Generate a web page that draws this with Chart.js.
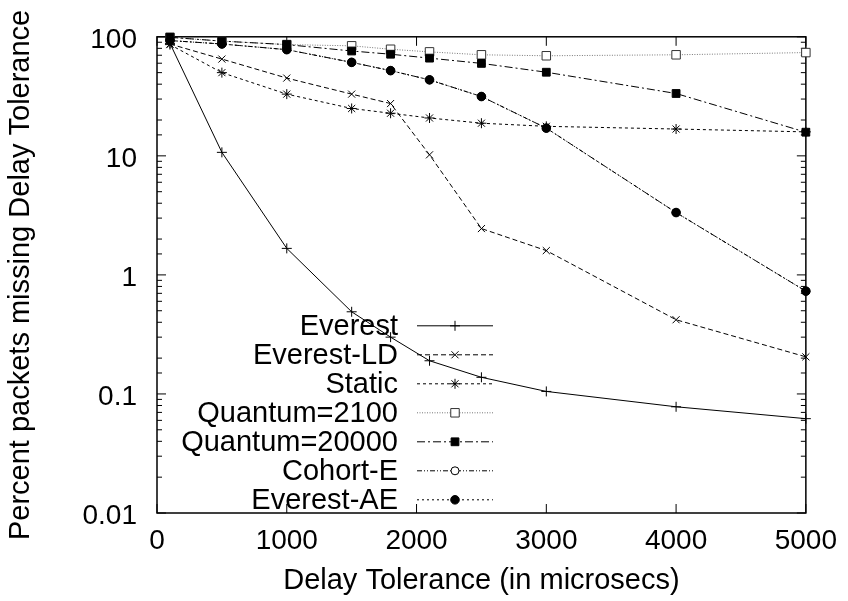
<!DOCTYPE html>
<html>
<head>
<meta charset="utf-8">
<script src="https://cdn.jsdelivr.net/npm/chart.js@4/dist/chart.umd.min.js"></script>
<style>
  body { margin: 0; background: #fff; }
  canvas { display: block; }
</style>
</head>
<body>
<canvas id="toleranceChart" width="848" height="601"></canvas>
<script>
// delay tolerance (microsecs) for every measured point
const delays = [100, 500, 1000, 1500, 1800, 2100, 2500, 3000, 4000, 5000];

// percent packets missing the delay tolerance
const everest      = [88, 10.7, 1.67, 0.49, 0.30, 0.19, 0.138, 0.105, 0.078, 0.062];
const everestLD    = [87, 65, 45, 33, 27.5, 10.2, 2.45, 1.6, 0.42, 0.205];
const staticSched  = [86, 50, 33, 25, 22.8, 20.8, 18.8, 17.7, 16.8, 15.9];
const quantum2100  = [99, 92, 86, 84, 78.6, 74.7, 70.6, 69.3, 70.6, 73.7];
const quantum20000 = [99, 92, 86, 76, 71.4, 66.2, 59.8, 50.4, 33.4, 15.8];
const cohortE      = [93, 87, 78, 61, 52, 43.5, 31.5, 17.1, 3.34, 0.73];
const everestAE    = [93, 87, 78, 61, 52, 43.5, 31.5, 17.1, 3.34, 0.73];

const xTickValues = [0, 1000, 2000, 3000, 4000, 5000];
const yTickValues = [0.01, 0.1, 1, 10, 100];
const yTickLabels = ['0.01', '0.1', '1', '10', '100'];

const FONT = '"Liberation Sans", Arial, Helvetica, sans-serif';
Chart.defaults.font.family = FONT;
Chart.defaults.color = '#000';

function series(label, values, style) {
    return Object.assign({
        label: label,
        data: values.map((v, i) => ({ x: delays[i], y: v })),
        borderColor: '#000',
        borderWidth: 1,
        pointBorderColor: '#000',
        pointBackgroundColor: '#000',
        pointBorderWidth: 1,
        pointRadius: 5,
        tension: 0,
        fill: false,
        clip: false
    }, style);
}

const datasets = [
    series('Everest', everest, { pointStyle: 'cross', pointRadius: 5 }),
    series('Everest-LD', everestLD, { pointStyle: 'crossRot', pointRadius: 5, borderDash: [5, 3] }),
    series('Static', staticSched, { pointStyle: 'star', pointRadius: 5, borderDash: [3, 3] }),
    series('Quantum=2100', quantum2100, {
        pointStyle: 'rect', pointRadius: 6, borderColor: '#777', borderDash: [1, 1.5],
        pointBackgroundColor: '#fff', pointBorderColor: '#333'
    }),
    series('Quantum=20000', quantum20000, { pointStyle: 'rect', pointRadius: 5.5, borderDash: [8, 3, 2, 3] }),
    series('Cohort-E', cohortE, {
        pointStyle: 'circle', pointRadius: 4, borderDash: [5, 2, 1, 2, 1, 2],
        pointBackgroundColor: '#fff'
    }),
    series('Everest-AE', everestAE, { pointStyle: 'circle', pointRadius: 4.3, borderDash: [2, 3] })
];
// later series are drawn on top, as in gnuplot
datasets.forEach((ds, i) => { ds.order = datasets.length - i; });

// gnuplot style frame with inward ticks on all four sides
const frameTicks = {
    id: 'frameTicks',
    beforeDatasetsDraw(chart) {
        const { ctx, chartArea: a, scales } = chart;
        ctx.save();
        ctx.strokeStyle = '#000';
        ctx.lineWidth = 1;
        ctx.beginPath();
        scales.y.ticks.forEach(t => {
            const py = scales.y.getPixelForValue(t.value);
            const len = t.label !== '' ? 9 : 5;
            ctx.moveTo(a.left, py); ctx.lineTo(a.left + len, py);
            ctx.moveTo(a.right, py); ctx.lineTo(a.right - len, py);
        });
        scales.x.ticks.forEach(t => {
            const px = scales.x.getPixelForValue(t.value);
            ctx.moveTo(px, a.bottom); ctx.lineTo(px, a.bottom - 9);
            ctx.moveTo(px, a.top); ctx.lineTo(px, a.top + 9);
        });
        ctx.stroke();
        ctx.lineWidth = 1.5;
        ctx.strokeRect(a.left, a.top, a.right - a.left, a.bottom - a.top);
        ctx.restore();
    }
};

// key: right aligned labels with a line sample and marker
const keyBox = {
    id: 'keyBox',
    afterDatasetsDraw(chart) {
        const { ctx, chartArea: a } = chart;
        const textRight = a.left + 241;
        const x0 = a.left + 260, x1 = a.left + 336;
        let y = a.top + 289;
        ctx.save();
        ctx.font = '29px ' + FONT;
        ctx.textAlign = 'right';
        ctx.textBaseline = 'middle';
        chart.data.datasets.forEach(ds => {
            ctx.fillStyle = '#000';
            ctx.fillText(ds.label, textRight, y + 1);
            ctx.strokeStyle = ds.borderColor;
            ctx.lineWidth = ds.borderWidth;
            ctx.setLineDash(ds.borderDash || []);
            ctx.beginPath();
            ctx.moveTo(x0, y);
            ctx.lineTo(x1, y);
            ctx.stroke();
            ctx.setLineDash([]);
            ctx.fillStyle = ds.pointBackgroundColor;
            ctx.strokeStyle = ds.pointBorderColor;
            ctx.lineWidth = 1;
            Chart.helpers.drawPoint(ctx, {
                pointStyle: ds.pointStyle, radius: ds.pointRadius, borderWidth: 1, rotation: 0
            }, (x0 + x1) / 2, y);
            y += 29;
        });
        ctx.restore();
    }
};

new Chart(document.getElementById('toleranceChart'), {
    type: 'line',
    data: { datasets: datasets },
    options: {
        responsive: false,
        animation: false,
        layout: { padding: { top: 29, right: 40, left: 0, bottom: 0 } },
        plugins: {
            legend: { display: false },
            tooltip: { enabled: false }
        },
        scales: {
            x: {
                type: 'linear',
                min: 0,
                max: 5000,
                afterBuildTicks: s => { s.ticks = xTickValues.map(v => ({ value: v })); },
                ticks: {
                    font: { size: 28 },
                    padding: 11,
                    maxRotation: 0,
                    autoSkip: false,
                    callback: v => String(v)
                },
                grid: { display: false, drawTicks: false },
                border: { display: false },
                title: {
                    display: true,
                    text: 'Delay Tolerance (in microsecs)',
                    font: { size: 29 },
                    padding: { top: 0, bottom: 3 }
                },
                afterFit: s => { s.height = 88; }
            },
            y: {
                type: 'logarithmic',
                min: 0.01,
                max: 100,
                ticks: {
                    font: { size: 28 },
                    padding: 20,
                    labelOffset: 3,
                    autoSkip: false,
                    callback: v => {
                        const i = yTickValues.findIndex(t => Math.abs(Math.log10(v) - Math.log10(t)) < 1e-6);
                        return i >= 0 ? yTickLabels[i] : '';
                    }
                },
                grid: { display: false, drawTicks: false },
                border: { display: false },
                title: {
                    display: true,
                    text: 'Percent packets missing Delay Tolerance',
                    font: { size: 29 },
                    padding: { top: 4, bottom: 0 }
                },
                afterFit: s => { s.width = 157; }
            }
        }
    },
    plugins: [frameTicks, keyBox]
});
</script>
</body>
</html>
